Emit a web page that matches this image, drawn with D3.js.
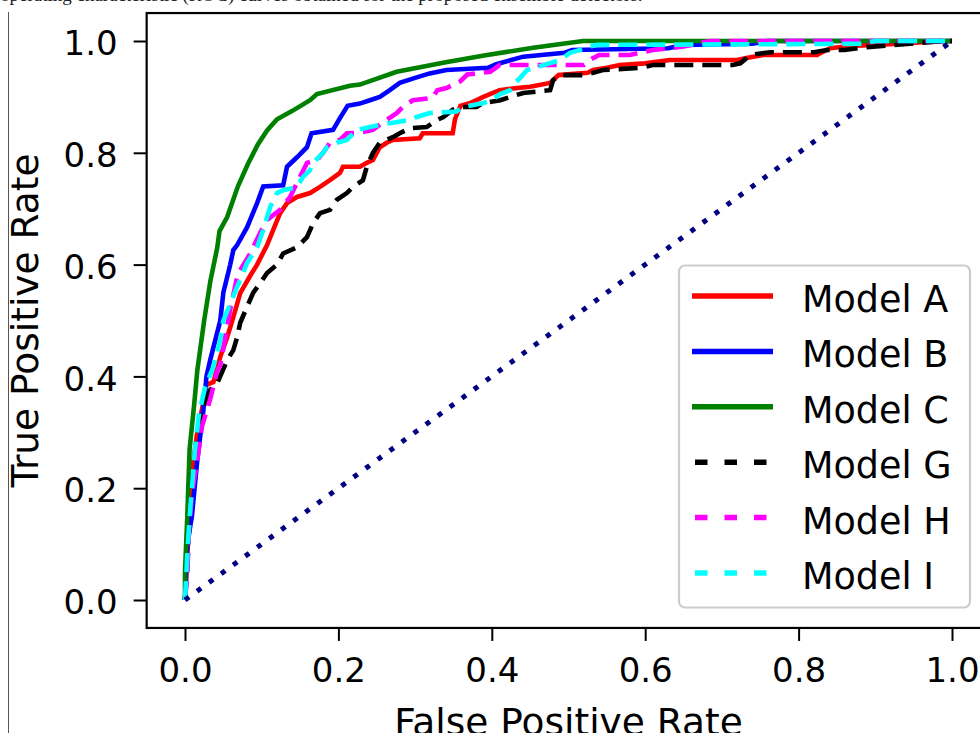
<!DOCTYPE html>
<html lang="en">
<head>
  <meta charset="UTF-8">
  <script src="https://d3js.org/d3.v7.min.js"></script>
  <title>ROC curves</title>
  <style>
    body { margin: 0; background: #fff; }
    svg { display: block; }
  </style>
</head>
<body>

<script>
  /*
    Data (fpr, tpr)
  */
  const modelA = [[0,0],[0.003,0.08],[0.006,0.16],[0.01,0.24],[0.016,0.3],[0.022,0.34],[0.028,0.385],[0.037,0.39],[0.046,0.435],[0.055,0.47],[0.063,0.506],[0.072,0.549],[0.085,0.58],[0.094,0.6],[0.107,0.635],[0.115,0.662],[0.124,0.692],[0.133,0.71],[0.146,0.721],[0.163,0.728],[0.176,0.739],[0.189,0.751],[0.202,0.764],[0.206,0.775],[0.228,0.775],[0.237,0.782],[0.245,0.787],[0.254,0.81],[0.263,0.818],[0.271,0.823],[0.306,0.826],[0.31,0.835],[0.349,0.835],[0.352,0.86],[0.359,0.884],[0.372,0.889],[0.389,0.9],[0.41,0.912],[0.433,0.916],[0.45,0.918],[0.476,0.925],[0.487,0.939],[0.525,0.943],[0.532,0.948],[0.55,0.952],[0.567,0.957],[0.6,0.96],[0.632,0.966],[0.72,0.966],[0.73,0.969],[0.754,0.975],[0.824,0.975],[0.841,0.987],[0.867,0.991],[0.902,0.993],[0.962,0.998],[1,1]]
  const modelB = [[0,0],[0.003,0.1],[0.009,0.15],[0.016,0.25],[0.024,0.34],[0.028,0.4],[0.033,0.43],[0.046,0.5],[0.05,0.55],[0.059,0.6],[0.063,0.626],[0.068,0.635],[0.081,0.667],[0.094,0.71],[0.102,0.74],[0.128,0.742],[0.133,0.775],[0.146,0.792],[0.159,0.81],[0.165,0.835],[0.193,0.841],[0.202,0.862],[0.212,0.884],[0.228,0.888],[0.241,0.894],[0.254,0.9],[0.267,0.912],[0.28,0.925],[0.3,0.934],[0.319,0.942],[0.341,0.948],[0.395,0.952],[0.405,0.958],[0.415,0.962],[0.441,0.972],[0.495,0.979],[0.505,0.984],[0.63,0.987],[0.65,0.993],[0.74,0.995],[0.76,1],[1,1]]
  const modelC = [[0,0],[0,0.05],[0.003,0.15],[0.006,0.27],[0.012,0.35],[0.016,0.41],[0.025,0.5],[0.033,0.57],[0.042,0.63],[0.045,0.66],[0.055,0.685],[0.069,0.74],[0.082,0.78],[0.095,0.815],[0.107,0.84],[0.12,0.86],[0.14,0.875],[0.163,0.894],[0.172,0.905],[0.215,0.92],[0.228,0.922],[0.276,0.945],[0.34,0.962],[0.39,0.974],[0.454,0.988],[0.519,1],[1,1]]
  const modelG = [[0,0],[0.003,0.06],[0.006,0.15],[0.01,0.22],[0.015,0.28],[0.02,0.32],[0.024,0.345],[0.033,0.376],[0.042,0.388],[0.055,0.429],[0.063,0.447],[0.068,0.47],[0.072,0.496],[0.081,0.525],[0.089,0.55],[0.098,0.567],[0.107,0.585],[0.12,0.6],[0.128,0.62],[0.146,0.631],[0.159,0.649],[0.167,0.674],[0.176,0.692],[0.189,0.698],[0.198,0.716],[0.211,0.728],[0.219,0.739],[0.232,0.751],[0.237,0.775],[0.245,0.8],[0.254,0.818],[0.271,0.828],[0.28,0.835],[0.293,0.844],[0.315,0.846],[0.329,0.859],[0.337,0.864],[0.349,0.877],[0.359,0.882],[0.38,0.882],[0.388,0.889],[0.411,0.894],[0.424,0.9],[0.441,0.907],[0.476,0.912],[0.48,0.93],[0.489,0.939],[0.519,0.939],[0.532,0.943],[0.545,0.948],[0.593,0.952],[0.61,0.957],[0.714,0.957],[0.724,0.96],[0.737,0.975],[0.763,0.98],[0.82,0.98],[0.837,0.984],[0.86,0.984],[0.889,0.989],[0.954,0.996],[0.988,1],[1,1]]
  const modelH = [[0,0],[0.003,0.05],[0.005,0.12],[0.009,0.19],[0.016,0.25],[0.022,0.31],[0.033,0.36],[0.042,0.41],[0.046,0.42],[0.059,0.52],[0.068,0.578],[0.072,0.59],[0.085,0.62],[0.098,0.657],[0.107,0.68],[0.124,0.698],[0.137,0.721],[0.15,0.757],[0.159,0.782],[0.172,0.787],[0.18,0.8],[0.189,0.818],[0.202,0.823],[0.211,0.835],[0.228,0.836],[0.245,0.841],[0.263,0.859],[0.276,0.871],[0.284,0.882],[0.297,0.894],[0.322,0.898],[0.329,0.912],[0.341,0.916],[0.359,0.928],[0.368,0.94],[0.398,0.945],[0.41,0.957],[0.52,0.957],[0.53,0.968],[0.54,0.975],[0.58,0.975],[0.61,0.984],[0.65,0.99],[0.685,1],[1,1]]
  const modelI = [[0,0],[0.003,0.08],[0.006,0.15],[0.009,0.2],[0.013,0.27],[0.018,0.33],[0.026,0.38],[0.037,0.417],[0.046,0.465],[0.05,0.5],[0.068,0.56],[0.081,0.603],[0.094,0.631],[0.102,0.662],[0.111,0.703],[0.12,0.728],[0.128,0.733],[0.146,0.739],[0.154,0.757],[0.163,0.769],[0.167,0.782],[0.18,0.8],[0.185,0.81],[0.198,0.818],[0.211,0.823],[0.224,0.841],[0.241,0.846],[0.254,0.85],[0.267,0.853],[0.293,0.859],[0.302,0.864],[0.319,0.871],[0.354,0.874],[0.363,0.882],[0.389,0.889],[0.398,0.893],[0.411,0.905],[0.424,0.912],[0.43,0.925],[0.437,0.934],[0.446,0.948],[0.463,0.955],[0.489,0.966],[0.502,0.979],[0.515,0.984],[0.524,0.989],[0.537,0.993],[0.88,0.995],[0.9,1],[1,1]]
  const chance = [[0,0],[1,1]]

  const modelNames = ["Model A", "Model B", "Model C", "Model G", "Model H", "Model I"]
  const modelColors = ["#ff0000", "#0000ff", "#008000", "#000000", "#ff00ff", "#00ffff"]
  const modelDashed = [false, false, false, true, true, true]
  const tickValues = [0, 0.2, 0.4, 0.6, 0.8, 1.0]

  /*
    Layout
  */
  const width = 980
  const height = 733
  const font = "'DejaVu Sans', sans-serif"

  const svg = d3.select("body").append("svg")
    .attr("width", width)
    .attr("height", height)

  // cut off caption line of the page above the figure
  svg.append("text")
    .attr("x", 0).attr("y", 1)
    .style("font-family", "'Liberation Serif', serif")
    .style("font-size", "19px")
    .style("fill", "#222")
    .text("operating characteristic (ROC) curves obtained for the proposed ensemble detectors.")

  // page margin rule
  svg.append("line")
    .attr("x1", 8.5).attr("x2", 8.5).attr("y1", 12).attr("y2", height)
    .style("stroke", "#555").style("stroke-width", 1)

  const x = d3.scaleLinear().domain([-0.05, 1.05]).range([146.65, 990.35])
  const y = d3.scaleLinear().domain([-0.05, 1.05]).range([627.95, 13.05])

  // axes
  const xAxis = d3.axisBottom(x).tickValues(tickValues).tickFormat(d3.format(".1f"))
    .tickSize(13).tickPadding(17)
  const yAxis = d3.axisLeft(y).tickValues(tickValues).tickFormat(d3.format(".1f"))
    .tickSize(13).tickPadding(16)

  const gx = svg.append("g").attr("transform", `translate(0,${y.range()[0]})`).call(xAxis)
  const gy = svg.append("g").attr("transform", `translate(${x.range()[0]},0)`).call(yAxis)

  ;[gx, gy].forEach(function(g){
    g.select(".domain").remove()
    g.selectAll(".tick line").style("stroke", "#000").style("stroke-width", 2)
    g.selectAll(".tick text")
      .style("font-family", font).style("font-size", "34px").style("fill", "#000")
  })
  gy.selectAll(".tick text").attr("dy", "0.4em")

  // spines
  svg.append("rect")
    .attr("x", x.range()[0]).attr("y", y.range()[1])
    .attr("width", x.range()[1] - x.range()[0])
    .attr("height", y.range()[0] - y.range()[1])
    .style("fill", "none").style("stroke", "#000").style("stroke-width", 2.2)

  // axis titles
  svg.append("text")
    .attr("x", (x.range()[0] + x.range()[1]) / 2).attr("y", 735)
    .attr("text-anchor", "middle")
    .style("font-family", font).style("font-size", "37.5px")
    .text("False Positive Rate")

  svg.append("text")
    .attr("transform", `translate(38,${(y.range()[0] + y.range()[1]) / 2}) rotate(-90)`)
    .attr("text-anchor", "middle")
    .style("font-family", font).style("font-size", "37.5px")
    .text("True Positive Rate")

  /*
    Curves
  */
  const line = d3.line().x(d => x(d[0])).y(d => y(d[1]))
  const series = [modelA, modelB, modelC, modelG, modelH, modelI]

  const plot = svg.append("g")
  series.forEach(function(s, i){
    plot.append("path")
      .datum(s)
      .attr("d", line)
      .style("fill", "none")
      .style("stroke", modelColors[i])
      .style("stroke-width", 4.6)
      .style("stroke-linejoin", "miter")
      .style("stroke-dasharray", modelDashed[i] ? "19,9" : null)
  })

  plot.append("path")
    .datum(chance)
    .attr("d", line)
    .style("fill", "none")
    .style("stroke", "#000080")
    .style("stroke-width", 5)
    .style("stroke-dasharray", "5,9.9")

  /*
    Legend
  */
  const legend = svg.append("g")
  legend.append("rect")
    .attr("x", 679).attr("y", 265.5)
    .attr("width", 291).attr("height", 342)
    .attr("rx", 6).attr("ry", 6)
    .style("fill", "rgba(255,255,255,0.8)")
    .style("stroke", "#cccccc").style("stroke-width", 2.2)

  modelNames.forEach(function(name, i){
    const cy = 296 + i * 55.4
    legend.append("line")
      .attr("x1", modelDashed[i] ? 695 : 692).attr("x2", modelDashed[i] ? 771 : 773)
      .attr("y1", cy).attr("y2", cy)
      .style("stroke", modelColors[i])
      .style("stroke-width", 5.5)
      .style("stroke-dasharray", modelDashed[i] ? "12.5,17" : null)
    legend.append("text")
      .attr("x", 802).attr("y", cy + 16)
      .style("font-family", font).style("font-size", "36.5px")
      .text(name)
  })
</script>
</body>
</html>
